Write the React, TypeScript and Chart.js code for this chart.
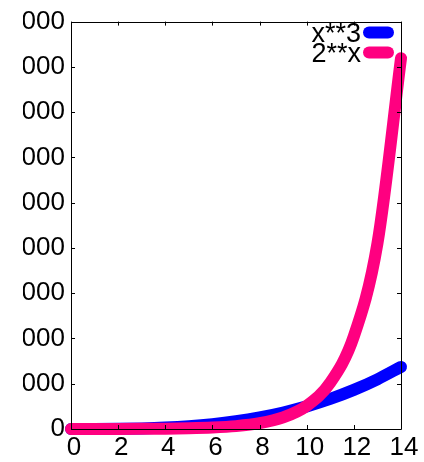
import React, { useEffect, useRef } from "react";
import { Chart, registerables } from "chart.js";

Chart.register(...registerables);

const xValues = [0, 1, 2, 3, 4, 5, 6, 7, 8, 9, 10, 11, 12, 13, 14];
const cubeValues = [0, 1, 8, 27, 64, 125, 216, 343, 512, 729, 1000, 1331, 1728, 2197, 2744];
const powValues = [1, 2, 4, 8, 16, 32, 64, 128, 256, 512, 1024, 2048, 4096, 8192, 16384];
const seriesLabels = ["x**3", "2**x"];
const seriesColors = ["#0000ff", "#ff0080"];
const xTicks = [0, 2, 4, 6, 8, 10, 12, 14];
const yTicks = [0, 2000, 4000, 6000, 8000, 10000, 12000, 14000, 16000, 18000];

const FONT = "Liberation Sans";

const framePlugin = {
  id: "gnuFrame",
  afterDatasetsDraw(chart: any) {
    const { ctx, chartArea } = chart;
    const xs = chart.scales.x;
    const ys = chart.scales.y;
    const { left, right, top, bottom } = chartArea;
    ctx.save();
    ctx.strokeStyle = "#000";
    ctx.lineWidth = 1;
    ctx.beginPath();
    ctx.rect(Math.round(left) + 0.5, Math.round(top) + 0.5, Math.round(right - left), Math.round(bottom - top));
    ctx.stroke();
    const tl = 4;
    ctx.beginPath();
    xTicks.forEach((v) => {
      const px = Math.round(xs.getPixelForValue(v)) + 0.5;
      ctx.moveTo(px, bottom);
      ctx.lineTo(px, bottom - tl);
      ctx.moveTo(px, top);
      ctx.lineTo(px, top + tl);
    });
    yTicks.forEach((v) => {
      const py = Math.round(ys.getPixelForValue(v)) + 0.5;
      ctx.moveTo(left, py);
      ctx.lineTo(left + tl, py);
      ctx.moveTo(right, py);
      ctx.lineTo(right - tl, py);
    });
    ctx.stroke();

    // legend (gnuplot style: text then sample)
    ctx.font = `27px "${FONT}"`;
    ctx.textAlign = "right";
    ctx.textBaseline = "alphabetic";
    chart.data.datasets.forEach((ds: any, i: number) => {
      const cy = top + 11 + 20 * i;
      ctx.fillStyle = "#000";
      ctx.fillText(ds.label, right - 40, cy + 9);
      ctx.strokeStyle = ds.borderColor;
      ctx.lineWidth = 12;
      ctx.lineCap = "round";
      ctx.beginPath();
      ctx.moveTo(right - 32, cy);
      ctx.lineTo(right - 13, cy);
      ctx.stroke();
    });
    ctx.restore();
  },
};

export default function App() {
  const ref = useRef<HTMLCanvasElement>(null);
  useEffect(() => {
    if (!ref.current) return;
    const chart = new Chart(ref.current, {
      type: "line",
      data: {
        datasets: [
          {
            label: seriesLabels[0],
            data: xValues.map((x, i) => ({ x, y: cubeValues[i] })),
            borderColor: seriesColors[0],
            backgroundColor: seriesColors[0],
            borderWidth: 12,
            pointRadius: 0,
            borderCapStyle: "round",
            borderJoinStyle: "round",
            cubicInterpolationMode: "monotone",
            clip: false as any,
            order: 1,
          },
          {
            label: seriesLabels[1],
            data: xValues.map((x, i) => ({ x, y: powValues[i] })),
            borderColor: seriesColors[1],
            backgroundColor: seriesColors[1],
            borderWidth: 12,
            pointRadius: 0,
            borderCapStyle: "round",
            borderJoinStyle: "round",
            cubicInterpolationMode: "monotone",
            clip: false as any,
            order: 0,
          },
        ],
      },
      options: {
        animation: false,
        responsive: false,
        layout: { padding: { top: 19, right: 23, left: 0, bottom: 0 } },
        plugins: { legend: { display: false }, tooltip: { enabled: false } },
        scales: {
          x: {
            type: "linear",
            min: 0,
            max: 14,
            afterBuildTicks: (s: any) => {
              s.ticks = xTicks.map((v) => ({ value: v }));
            },
            afterFit: (s: any) => {
              s.height = 33;
            },
            ticks: {
              font: { family: FONT, size: 26 },
              color: "#000",
              padding: 3,
              labelOffset: 3,
              maxRotation: 0,
              callback: (v: any) => String(v),
            },
            grid: { display: false, drawTicks: false },
            border: { display: false },
          },
          y: {
            type: "linear",
            min: 0,
            max: 18000,
            afterBuildTicks: (s: any) => {
              s.ticks = yTicks.map((v) => ({ value: v }));
            },
            afterFit: (s: any) => {
              s.width = 48;
            },
            ticks: {
              font: { family: FONT, size: 26 },
              color: "#000",
              padding: 6,
              callback: (v: any) => String(v),
            },
            grid: { display: false, drawTicks: false },
            border: { display: false },
          },
        },
      },
      plugins: [framePlugin],
    });
    return () => chart.destroy();
  }, []);
  return (
    <canvas
      ref={ref}
      width={401}
      height={462}
      style={{ position: "absolute", left: 23, top: 0, width: 401, height: 462, background: "#fff" }}
    />
  );
}
